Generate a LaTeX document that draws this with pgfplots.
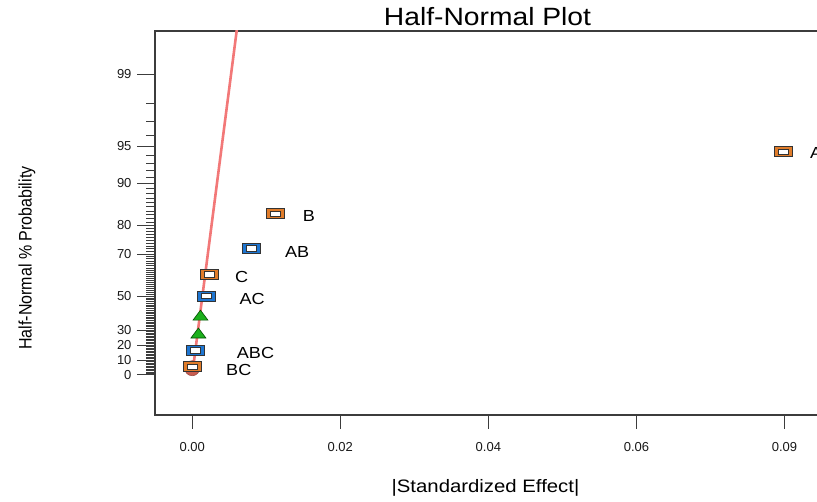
\documentclass[border=0pt]{standalone}
\usepackage{pgfplots}
\usepackage{pgfplotstable}
\pgfplotsset{compat=1.18}
\usepackage{fontspec}
\setmainfont{Liberation Sans}

\definecolor{effOrange}{RGB}{224,124,42}
\definecolor{effBlue}{RGB}{30,118,210}
\definecolor{errGreen}{RGB}{28,176,28}
\definecolor{fitRed}{RGB}{242,120,120}
\definecolor{dotRed}{RGB}{200,92,80}
\definecolor{frameGray}{RGB}{60,60,60}

% slightly widened lettering
\newcommand\wide[1]{\scalebox{1.13}[1]{#1}}
\newcommand\tall[1]{\scalebox{1}[1.13]{#1}}

% effect marker: filled frame with a white window
\pgfdeclareplotmark{effbox}{%
  \pgfpathrectangle{\pgfpoint{-9pt}{-5pt}}{\pgfpoint{18pt}{10pt}}%
  \pgfusepathqfillstroke
  \pgfscope
  \pgfsetfillcolor{white}%
  \pgfpathrectangle{\pgfpoint{-5pt}{-2.6pt}}{\pgfpoint{10pt}{5.2pt}}%
  \pgfusepathqfillstroke
  \endpgfscope
}
% error marker: flat triangle
\pgfdeclareplotmark{errtri}{%
  \pgfpathmoveto{\pgfpoint{-7.5pt}{-4.5pt}}%
  \pgfpathlineto{\pgfpoint{7.5pt}{-4.5pt}}%
  \pgfpathlineto{\pgfpoint{0pt}{5.5pt}}%
  \pgfpathclose
  \pgfusepathqfillstroke
}

% |effect| against half-normal quantile (z of the plotting position)
\pgfplotstableread{
x z
0.0859 1.9145
0.0121 1.3830
0.0025 0.8616
0.00004 0.0697
}\positiveeffects
\pgfplotstableread{
x z
0.0086 1.0853
0.0020 0.6745
0.0005 0.2104
}\negativeeffects
\pgfplotstableread{
x z
0.0012 0.5083
0.0009 0.3554
}\erroreffects

\begin{document}
\begin{tikzpicture}[x=1pt,y=1pt]
\useasboundingbox (0,0) rectangle (817,502);
\clip (0,0) rectangle (817,502);

\begin{axis}[
  at={(155pt,87pt)}, anchor=south west,
  scale only axis, width=675pt, height=384pt,
  xmin=-0.0054, xmax=0.0926, ymin=-0.3428, ymax=2.9477,
  axis line style={frameGray, line width=1.2pt},
  tick align=outside,
  xtick pos=bottom, ytick pos=left,
  scaled x ticks=false, scaled y ticks=false,
  xtick={0,0.0215,0.043,0.0645,0.086},
  xticklabels={0.00,0.02,0.04,0.06,0.09},
  ytick={0,0.12566,0.25335,0.38532,0.67449,1.03643,1.28155,1.64485,1.95996,2.57583},
  yticklabels={0,10,20,30,50,70,80,90,95,99},
  minor ytick={0.01253,0.02507,0.03761,0.05015,0.06271,0.07527,0.08784,0.10043,0.11304,
    0.13830,0.15097,0.16366,0.17637,0.18912,0.20189,0.21470,0.22754,0.24043,
    0.26631,0.27932,0.29237,0.30548,0.31864,0.33185,0.34512,0.35846,0.37185,
    0.39885,0.41246,0.42614,0.43991,0.45376,0.46770,0.48173,0.49585,0.51007,0.52440,
    0.53884,0.55338,0.56805,0.58284,0.59776,0.61281,0.62801,0.64335,0.65884,
    0.69031,0.70630,0.72247,0.73885,0.75542,0.77219,0.78919,0.80642,0.82389,0.84162,
    0.85961,0.87790,0.89647,0.91537,0.93459,0.95417,0.97411,0.99446,1.01522,
    1.05812,1.08032,1.10306,1.12639,1.15035,1.17499,1.20036,1.22653,1.25357,
    1.31058,1.34076,1.37220,1.40507,1.43953,1.47579,1.51410,1.55477,1.59819,
    1.69540,1.75069,1.81191,1.88079,
    2.05375,2.17009,2.32635},
  major tick length=18pt, minor tick length=9pt,
  xtick style={/pgfplots/major tick length=14pt},
  tick style={frameGray, line width=1pt},
  ticklabel style={font=\fontsize{13}{13}\selectfont, text=black!90},
  yticklabel style={xshift=-2pt},
  xticklabel style={yshift=-6pt},
  clip=true,
]
% fitted line through the origin
\addplot[fitRed, line width=2.6pt] coordinates {(0,0) (0.00657,3.0)};
\addplot[only marks, mark=*, mark size=7.5pt,
  mark options={fill=dotRed, draw=dotRed!80!black, line width=0.6pt}]
  coordinates {(0.0000,0.058)};
\addplot[only marks, mark=errtri,
  mark options={fill=errGreen, draw=green!30!black, line width=0.6pt}]
  table[x=x, y=z] {\erroreffects};
\addplot[only marks, mark=effbox,
  mark options={fill=effBlue, draw=black!80, line width=0.8pt}]
  table[x=x, y=z] {\negativeeffects};
\addplot[only marks, mark=effbox,
  mark options={fill=effOrange, draw=black!80, line width=0.8pt}]
  table[x=x, y=z] {\positiveeffects};

% effect names
\begin{scope}[every node/.style={anchor=west, inner sep=0pt,
    font=\fontsize{16}{16}\selectfont}]
\node at (axis cs:0.08969,1.900) {\wide{A}};
\node at (axis cs:0.01604,1.362) {\wide{B}};
\node at (axis cs:0.01347,1.057) {\wide{AB}};
\node at (axis cs:0.00621,0.837) {\wide{C}};
\node at (axis cs:0.00684,0.649) {\wide{AC}};
\node at (axis cs:0.00646,0.186) {\wide{ABC}};
\node at (axis cs:0.00491,0.043) {\wide{BC}};
\end{scope}
\end{axis}

\node[font=\fontsize{25}{25}\selectfont] at (487.5,485) {\wide{Half-Normal Plot}};
\node[font=\fontsize{18}{18}\selectfont] at (485.5,14) {\wide{|Standardized Effect|}};
\node[font=\fontsize{16}{16}\selectfont, rotate=90] at (27,244) {\tall{Half-Normal \% Probability}};
\end{tikzpicture}
\end{document}
